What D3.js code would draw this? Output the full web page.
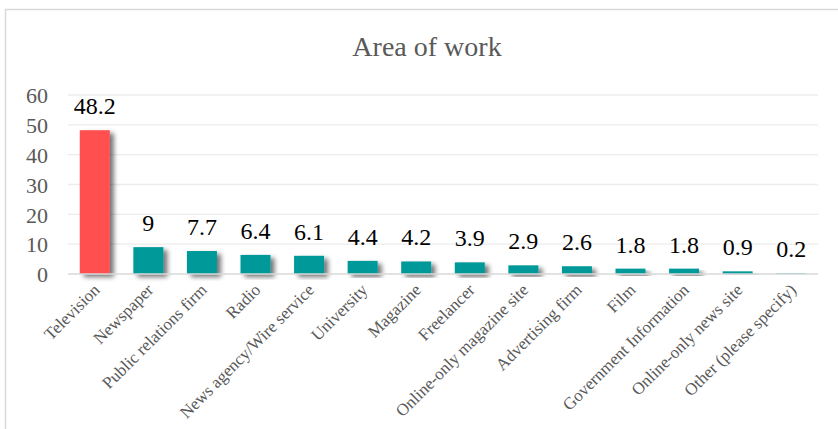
<!DOCTYPE html>
<html>
<head>
<meta charset="utf-8">
<script src="https://cdn.jsdelivr.net/npm/d3@7"></script>
<style>
  html, body { margin: 0; padding: 0; background: #ffffff; }
  svg { display: block; }
</style>
</head>
<body>
<svg id="chart" width="838" height="429"></svg>
<script>
const categories = ["Television", "Newspaper", "Public relations firm", "Radio", "News agency/Wire service", "University", "Magazine", "Freelancer", "Online-only magazine site", "Advertising firm", "Film", "Government Information", "Online-only news site", "Other (please specify)"];
const values = [48.2, 9, 7.7, 6.4, 6.1, 4.4, 4.2, 3.9, 2.9, 2.6, 1.8, 1.8, 0.9, 0.2];
const yTicks = [0, 10, 20, 30, 40, 50, 60];
const title = "Area of work";
const highlightColor = "#FF5050";
const barColor = "#009999";

const svg = d3.select("#chart");
const font = "Liberation Serif, Times New Roman, serif";

// chart frame
svg.append("rect").attr("x", 5.5).attr("y", 9.5).attr("width", 900).attr("height", 500)
  .attr("fill", "#fff").attr("stroke", "#d9d9d9").attr("stroke-width", 1.5);

const defs = svg.append("defs");
const f = defs.append("filter").attr("id", "shadow").attr("x", "-30%").attr("y", "-30%").attr("width", "180%").attr("height", "160%");
f.append("feGaussianBlur").attr("in", "SourceAlpha").attr("stdDeviation", 2.5).attr("result", "blur");
f.append("feOffset").attr("in", "blur").attr("dx", 4).attr("dy", 3).attr("result", "off");
f.append("feComponentTransfer").attr("in", "off").attr("result", "sh")
  .append("feFuncA").attr("type", "linear").attr("slope", 0.55);
const m = f.append("feMerge");
m.append("feMergeNode").attr("in", "sh");
m.append("feMergeNode").attr("in", "SourceGraphic");

const x = d3.scaleBand().domain(categories).range([68, 818]).paddingInner(0.44).paddingOuter(0.22);
const y = d3.scaleLinear().domain([0, 60]).range([274, 95]);

// title
svg.append("text").attr("x", 427).attr("y", 56).attr("text-anchor", "middle")
  .style("font-family", font).attr("font-size", 28).attr("fill", "#595959").text(title);

// gridlines
svg.append("g").selectAll("line").data(yTicks.filter(d => d > 0)).join("line")
  .attr("x1", 68).attr("x2", 818).attr("y1", d => y(d)).attr("y2", d => y(d))
  .attr("stroke", "#ececec").attr("stroke-width", 1.3);

// y axis
const yAxis = svg.append("g").attr("transform", "translate(48,0)")
  .call(d3.axisLeft(y).tickValues(yTicks).tickSize(0).tickPadding(0));
yAxis.attr("font-family", null).attr("font-size", null);
yAxis.select(".domain").remove();
yAxis.selectAll("text").style("font-family", font).attr("font-size", 22).attr("fill", "#595959").attr("dy", "0.35em");

// bars
svg.append("g").selectAll("rect").data(values).join("rect")
  .attr("x", (d, i) => x(categories[i]))
  .attr("width", x.bandwidth())
  .attr("y", d => y(d))
  .attr("height", d => y(0) - y(d))
  .attr("fill", (d, i) => i === 0 ? highlightColor : barColor)
  .attr("filter", "url(#shadow)");

// x axis
const xAxis = svg.append("g").attr("transform", `translate(0,${y(0)})`)
  .call(d3.axisBottom(x).tickSize(0).tickPadding(0));
xAxis.attr("font-family", null).attr("font-size", null);
xAxis.select(".domain").attr("stroke", "#d9d9d9").attr("stroke-width", 1.5).attr("d", "M68,0H818");
xAxis.selectAll("text")
  .style("font-family", font).attr("font-size", 17).attr("fill", "#595959")
  .attr("text-anchor", "end").attr("dy", 0)
  .attr("transform", "translate(6,17) rotate(-45)");

// value labels
svg.append("g").selectAll("text").data(values).join("text")
  .attr("x", (d, i) => x(categories[i]) + x.bandwidth() / 2)
  .attr("y", d => y(d) - 16)
  .attr("text-anchor", "middle")
  .style("font-family", font).attr("font-size", 24).attr("fill", "#000")
  .text(d => d);
</script>
</body>
</html>
